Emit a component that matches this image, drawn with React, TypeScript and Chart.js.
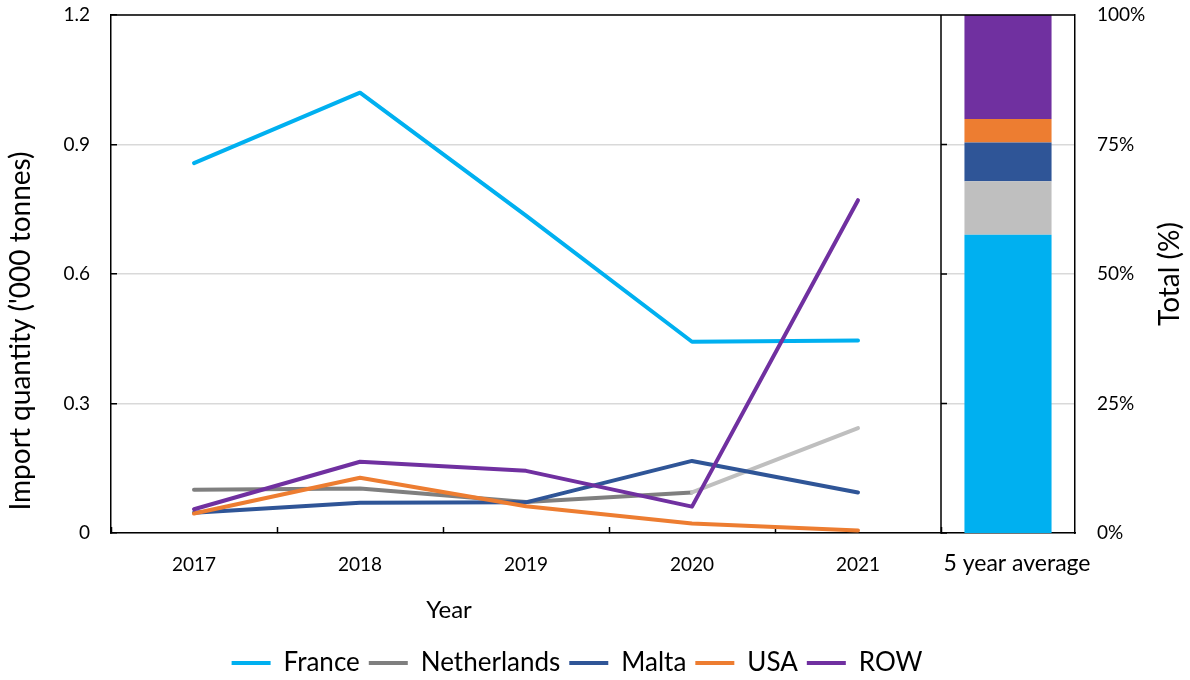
import { useEffect, useRef } from 'react';
import { Chart, registerables } from 'chart.js';

Chart.register(...registerables);

// ---- data ----
const years = ['2017', '2018', '2019', '2020', '2021'];
const seriesNames = ['France', 'Netherlands', 'Malta', 'USA', 'ROW'];
const france = [0.857, 1.02, 0.735, 0.443, 0.446];
const netherlands = [0.100, 0.103, 0.072, 0.094, 0.243];
const malta = [0.047, 0.070, 0.071, 0.167, 0.094];
const usa = [0.045, 0.128, 0.062, 0.022, 0.006];
const rowValues = [0.055, 0.165, 0.144, 0.061, 0.771];
const averageLabels = ['5 year average'];
// share of 5-year total (%): France, Netherlands, Malta, USA, ROW
const averageShare = [57.6, 10.3, 7.5, 4.5, 20.1];
const quantityTickLabels = ['0', '0.3', '0.6', '0.9', '1.2'];
const shareTickLabels = ['0%', '25%', '50%', '75%', '100%'];
const yTitle = "Import quantity ('000 tonnes)";
const xTitle = 'Year';
const y2Title = 'Total (%)';

const lineColors = ['#00B0F0', '#7F7F7F', '#2F5597', '#ED7D31', '#7030A0'];
const barColors = ['#00B0F0', '#BFBFBF', '#2F5597', '#ED7D31', '#7030A0'];
const netherlandsLastSegmentColor = '#BFBFBF';

const FONT = 'Lato';

const clearPadding = (s: any) => {
  s.paddingTop = 0;
  s.paddingBottom = 0;
  s.paddingLeft = 0;
  s.paddingRight = 0;
};

const framePlugin = {
  id: 'frameAndTitles',
  afterDraw(chart: any) {
    const { ctx, chartArea } = chart;
    const x2 = chart.scales.x2;
    const y2 = chart.scales.y2;
    ctx.save();
    ctx.strokeStyle = '#000';
    ctx.lineWidth = 1.5;
    ctx.beginPath();
    ctx.moveTo(chartArea.left, chartArea.top);
    ctx.lineTo(chartArea.right, chartArea.top);
    ctx.moveTo(x2.left, chartArea.top);
    ctx.lineTo(x2.left, chartArea.bottom);
    y2.ticks.forEach((_t: any, i: number) => {
      const py = y2.getPixelForTick(i);
      ctx.moveTo(x2.left, py);
      ctx.lineTo(x2.left + 6, py);
    });
    ctx.stroke();

    ctx.fillStyle = '#000';
    ctx.textAlign = 'center';
    ctx.textBaseline = 'middle';
    ctx.font = `28px ${FONT}`;
    ctx.save();
    ctx.translate(21, chartArea.bottom - 202);
    ctx.rotate(-Math.PI / 2);
    ctx.fillText(yTitle, 0, 0);
    ctx.restore();

    ctx.save();
    ctx.translate(chart.width - 20, (chartArea.top + chartArea.bottom) / 2);
    ctx.rotate(-Math.PI / 2);
    ctx.fillText(y2Title, 0, 0);
    ctx.restore();

    ctx.font = `24px ${FONT}`;
    ctx.fillText(xTitle, 449, chartArea.bottom + 77);
    ctx.restore();
  },
};

export default function App() {
  const ref = useRef<HTMLCanvasElement | null>(null);

  useEffect(() => {
    if (!ref.current) return;
    const lineSeries = [france, netherlands, malta, usa, rowValues];
    const lineDatasets: any[] = lineSeries.map((data, i) => ({
      type: 'line',
      label: seriesNames[i],
      data,
      xAxisID: 'x',
      yAxisID: 'y',
      borderColor: lineColors[i],
      backgroundColor: lineColors[i],
      borderWidth: 4,
      borderCapStyle: 'round',
      borderJoinStyle: 'round',
      pointRadius: 0,
      tension: 0,
      order: 5 - i,
      segment:
        i === 1
          ? { borderColor: (c: any) => (c.p0DataIndex === 3 ? netherlandsLastSegmentColor : undefined) }
          : undefined,
    }));
    const barDatasets: any[] = averageShare.map((v, i) => ({
      type: 'bar',
      label: seriesNames[i] + ' (5 year average)',
      data: [v],
      xAxisID: 'x2',
      yAxisID: 'y2',
      stack: 'average',
      grouped: false,
      backgroundColor: barColors[i],
      borderWidth: 0,
      barPercentage: 0.65,
      categoryPercentage: 1,
      order: 10,
    }));

    const chart = new Chart(ref.current, {
      type: 'line',
      data: { labels: years, datasets: [...lineDatasets, ...barDatasets] },
      options: {
        animation: false,
        responsive: false,
        layout: { padding: { top: 15, left: 0, right: 36, bottom: -6 } },
        font: { family: FONT },
        plugins: {
          tooltip: { enabled: false },
          legend: {
            position: 'bottom',
            labels: {
              usePointStyle: true,
              pointStyle: 'line',
              pointStyleWidth: 39,
              color: '#000',
              font: { family: FONT, size: 26 },
              padding: 9,
              filter: (item: any) => item.datasetIndex < 5,
              sort: (a: any, b: any) => a.datasetIndex - b.datasetIndex,
            },
          },
        },
        scales: {
          x: {
            type: 'category',
            labels: years,
            position: 'bottom',
            stack: 'bottom',
            stackWeight: 830,
            offset: true,
            grid: {
              offset: true,
              drawOnChartArea: false,
              drawTicks: true,
              tickLength: -6,
              tickColor: '#000',
              tickWidth: 1.5,
            },
            border: { color: '#000', width: 1.5 },
            ticks: { color: '#000', font: { family: FONT, size: 19 }, padding: 26, maxRotation: 0 },
            afterFit: (s: any) => {
              s.height = 108;
              clearPadding(s);
            },
          },
          x2: {
            type: 'category',
            labels: averageLabels,
            position: 'bottom',
            stack: 'bottom',
            stackWeight: 134,
            offset: true,
            stacked: true,
            grid: { display: false, drawTicks: false },
            border: { color: '#000', width: 1.5 },
            ticks: { color: '#000', font: { family: FONT, size: 23 }, padding: 17, maxRotation: 0, labelOffset: 9 },
            afterFit: (s: any) => {
              s.height = 108;
              clearPadding(s);
            },
          },
          y: {
            type: 'linear',
            position: 'left',
            min: 0,
            max: 1.2,
            grid: {
              color: '#D9D9D9',
              lineWidth: 1.5,
              drawTicks: true,
              tickLength: -6,
              tickColor: '#000',
              tickWidth: 1.5,
            },
            border: { color: '#000', width: 1.5 },
            ticks: {
              stepSize: 0.3,
              color: '#000',
              font: { family: FONT, size: 19 },
              padding: 27,
              callback: (_v: any, i: number) => quantityTickLabels[i],
            },
            afterFit: (s: any) => {
              s.width = 111;
              clearPadding(s);
            },
          },
          y2: {
            type: 'linear',
            position: 'right',
            min: 0,
            max: 100,
            stacked: true,
            grid: { display: false, drawTicks: false },
            border: { color: '#000', width: 1.5 },
            ticks: {
              stepSize: 25,
              color: '#000',
              font: { family: FONT, size: 19 },
              padding: 22,
              callback: (_v: any, i: number) => shareTickLabels[i],
            },
            afterFit: (s: any) => {
              s.width = 79;
              clearPadding(s);
            },
          },
        },
      } as any,
      plugins: [framePlugin],
    });
    return () => chart.destroy();
  }, []);

  return (
    <div style={{ position: 'absolute', left: 0, top: 0, width: 1190, height: 680, background: '#fff' }}>
      <canvas ref={ref} width={1190} height={680} />
    </div>
  );
}
